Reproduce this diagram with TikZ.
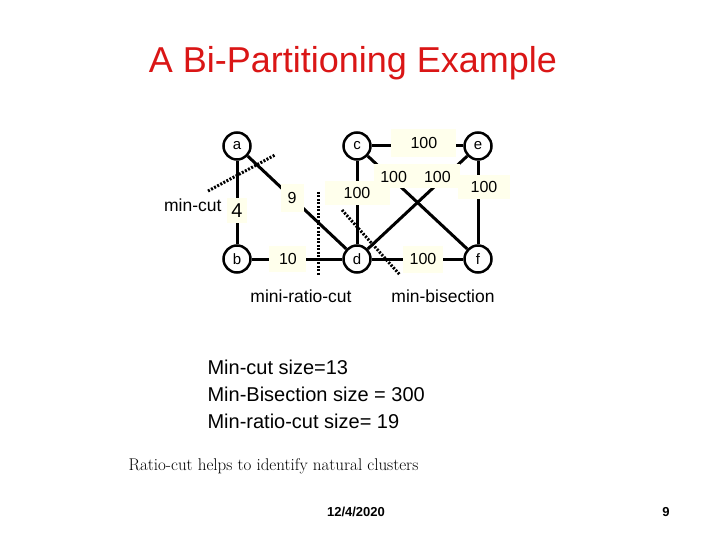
\documentclass[tikz,border=0pt]{standalone}
\usepackage{fontspec}
\setmainfont{Liberation Sans}
\newfontfamily\lmfont{Latin Modern Roman}
\definecolor{wtbg}{RGB}{255,255,236}
\definecolor{titlered}{RGB}{218,22,22}

\begin{document}
\begin{tikzpicture}[x=1pt,y=-1pt,
  vert/.style={circle,draw,line width=2.5pt,minimum size=27pt,inner sep=0pt,fill=white,font=\fontsize{15}{15}\selectfont},
  wt/.style={fill=wtbg,inner sep=0pt,minimum width=40pt,minimum height=24pt,font=\fontsize{16}{16}\selectfont},
  link/.style={line width=3pt},
  cut/.style={line width=3pt,dash pattern=on 2pt off 1.5pt},
  cutname/.style={font=\fontsize{17.5}{17.5}\selectfont}]
\useasboundingbox (0,0) rectangle (720,540);
\node[text=titlered,font=\fontsize{36}{36}\selectfont] (title) at (353,63) {A Bi-Partitioning Example};

\node[vert] (a) at (237,146) {a};
\node[vert] (c) at (357,146) {c};
\node[vert] (e) at (478,146) {e};
\node[vert] (b) at (237,259) {b};
\node[vert] (d) at (357,259) {d};
\node[vert] (f) at (478,259) {f};

\draw[link] (a) -- node[wt,pos=.6,minimum width=20pt,minimum height=25pt,font=\fontsize{20}{20}\selectfont] {4} (b);
\draw[link] (a) -- node[wt,pos=.45,minimum width=23pt,minimum height=28pt] {9} (d);
\draw[link] (b) -- node[wt,pos=.4,minimum width=37pt,minimum height=26pt] {10} (d);
\draw[link] (c) -- node[wt,pos=.39,minimum width=65pt] {100} (d);
\draw[link] (c) -- node[wt,pos=.57,minimum width=65pt,minimum height=28pt,yshift=3pt] {100} (e);
\draw[link] (c) -- node[wt,pos=.22,xshift=4pt] {100} (f);
\draw[link] (e) -- node[wt,pos=.22,xshift=-8pt,minimum width=46pt] {100} (d);
\draw[link] (e) -- node[wt,pos=.31,minimum width=52pt,xshift=6pt] {100} (f);
\draw[link] (d) -- node[wt,pos=.56,minimum height=27pt] {100} (f);

\draw[cut] (208,191) -- (275,155);
\draw[cut] (318,192) -- (318,275);
\draw[cut] (342,210) -- (400,275);
\node[cutname,anchor=east] (mincut) at (225,205) {min-cut};
\node[cutname] (ratiocut) at (301,296) {mini-ratio-cut};
\node[cutname] (bisect) at (443,296) {min-bisection};

\node[anchor=west,align=left,font=\fontsize{20}{27}\selectfont] (sizes) at (204,394) {Min-cut size=13\\Min-Bisection size = 300\\Min-ratio-cut size= 19};
\node[anchor=west,font=\lmfont\fontsize{17}{17}\selectfont] (note) at (125,466) {Ratio-cut helps to identify natural clusters};
\node[font=\bfseries\fontsize{13}{13}\selectfont] (date) at (356,512) {12/4/2020};
\node[font=\bfseries\fontsize{13}{13}\selectfont] (page) at (666,512) {9};
\end{tikzpicture}
\end{document}
